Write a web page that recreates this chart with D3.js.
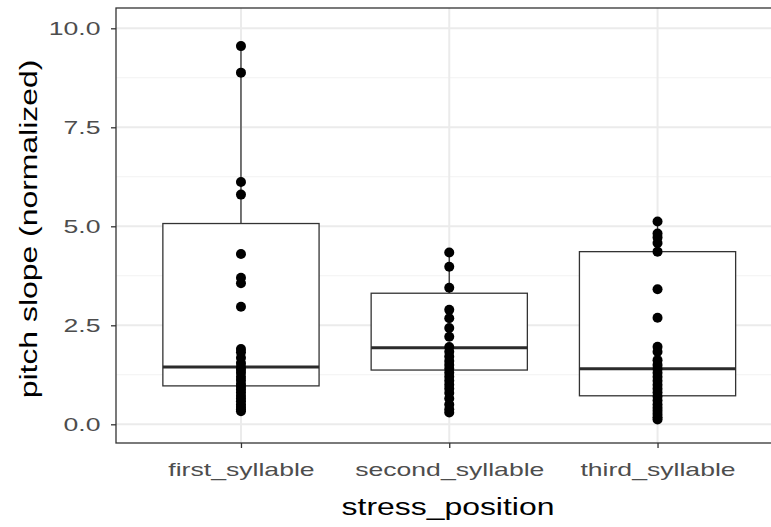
<!DOCTYPE html>
<html>
<head>
<meta charset="utf-8">
<script src="https://cdn.jsdelivr.net/npm/d3@7"></script>
<style>
  html, body { margin: 0; padding: 0; background: #ffffff; }
  svg { display: block; }
  text { font-family: "Liberation Sans", Arial, sans-serif; }
</style>
</head>
<body>
<svg id="chart" width="771" height="527"></svg>
<script>
// Stress position categories
const categories = ["first_syllable", "second_syllable", "third_syllable"];

// Box summaries per category
const whiskerLow  = [0.33, 0.28, 0.12];
const lowerHinge  = [0.97, 1.37, 0.72];
const medians     = [1.45, 1.93, 1.40];
const upperHinge  = [5.07, 3.31, 4.36];
const whiskerHigh = [9.55, 4.34, 5.12];

// Individual observations per category
const firstSyllable = [9.55, 8.88, 6.12, 5.80, 4.30, 3.70, 3.56, 2.97, 1.90, 1.82, 1.68, 1.55,
  1.45, 1.38, 1.30, 1.20, 1.12, 1.02, 0.95, 0.88, 0.80, 0.72, 0.65, 0.58, 0.50, 0.44, 0.38, 0.33];
const secondSyllable = [4.34, 3.98, 3.45, 2.89, 2.68, 2.43, 2.21, 1.95, 1.83, 1.71, 1.60, 1.50,
  1.40, 1.30, 1.20, 1.10, 1.00, 0.90, 0.79, 0.65, 0.50, 0.38, 0.30];
const thirdSyllable = [5.12, 4.82, 4.72, 4.58, 4.36, 3.41, 2.69, 1.96, 1.83, 1.62, 1.50, 1.40,
  1.30, 1.20, 1.10, 1.00, 0.90, 0.80, 0.70, 0.60, 0.50, 0.42, 0.34, 0.26, 0.18, 0.12];
const observations = [firstSyllable, secondSyllable, thirdSyllable];

// Axis ticks
const yMajorTicks = [0, 2.5, 5, 7.5, 10];
const yMinorTicks = [1.25, 3.75, 6.25, 8.75];
const yTickLabels = ["0.0", "2.5", "5.0", "7.5", "10.0"];

const svg = d3.select("#chart");

// Panel frame (extends past the right edge of the canvas)
const panel = { left: 116, right: 782.5, top: 8, bottom: 443 };

// Wide lettering: glyphs are stretched horizontally
const tickStretch = 1.4;
const titleStretch = 1.33;

const x = d3.scalePoint()
  .domain(categories)
  .range([panel.left, panel.right])
  .padding(0.6);

const y = d3.scaleLinear()
  .domain([0, 10])
  .range([424.3, 28.3]);

const boxWidth = x.step() * 0.75;

const boxes = categories.map((c, i) => ({
  cat: c,
  lo: whiskerLow[i], q1: lowerHinge[i], med: medians[i],
  q3: upperHinge[i], hi: whiskerHigh[i], pts: observations[i]
}));

// Panel background
svg.append("rect")
  .attr("x", panel.left).attr("y", panel.top)
  .attr("width", panel.right - panel.left).attr("height", panel.bottom - panel.top)
  .attr("fill", "#ffffff");

// Grid lines
const grid = svg.append("g");
grid.selectAll("line.minor").data(yMinorTicks).join("line")
  .attr("class", "minor")
  .attr("x1", panel.left).attr("x2", panel.right)
  .attr("y1", d => y(d)).attr("y2", d => y(d))
  .attr("stroke", "#F2F2F2").attr("stroke-width", 1.1);
grid.selectAll("line.majorY").data(yMajorTicks).join("line")
  .attr("class", "majorY")
  .attr("x1", panel.left).attr("x2", panel.right)
  .attr("y1", d => y(d)).attr("y2", d => y(d))
  .attr("stroke", "#EBEBEB").attr("stroke-width", 2);
grid.selectAll("line.majorX").data(categories).join("line")
  .attr("class", "majorX")
  .attr("x1", d => x(d)).attr("x2", d => x(d))
  .attr("y1", panel.top).attr("y2", panel.bottom)
  .attr("stroke", "#EBEBEB").attr("stroke-width", 2);

// Boxplots
const boxG = svg.append("g").selectAll("g").data(boxes).join("g");
boxG.append("line")
  .attr("x1", d => x(d.cat)).attr("x2", d => x(d.cat))
  .attr("y1", d => y(d.hi)).attr("y2", d => y(d.q3))
  .attr("stroke", "#333333").attr("stroke-width", 1.3);
boxG.append("line")
  .attr("x1", d => x(d.cat)).attr("x2", d => x(d.cat))
  .attr("y1", d => y(d.q1)).attr("y2", d => y(d.lo))
  .attr("stroke", "#333333").attr("stroke-width", 1.3);
boxG.append("rect")
  .attr("x", d => x(d.cat) - boxWidth / 2)
  .attr("width", boxWidth)
  .attr("y", d => y(d.q3))
  .attr("height", d => y(d.q1) - y(d.q3))
  .attr("fill", "#ffffff")
  .attr("stroke", "#333333").attr("stroke-width", 1.3);
boxG.append("line")
  .attr("x1", d => x(d.cat) - boxWidth / 2).attr("x2", d => x(d.cat) + boxWidth / 2)
  .attr("y1", d => y(d.med)).attr("y2", d => y(d.med))
  .attr("stroke", "#2b2b2b").attr("stroke-width", 3);

// Observations
boxG.selectAll("circle").data(d => d.pts.map(v => ({ cat: d.cat, v }))).join("circle")
  .attr("cx", d => x(d.cat))
  .attr("cy", d => y(d.v))
  .attr("r", 5)
  .attr("fill", "#000000");

// Panel border
svg.append("rect")
  .attr("x", panel.left).attr("y", panel.top)
  .attr("width", panel.right - panel.left).attr("height", panel.bottom - panel.top)
  .attr("fill", "none").attr("stroke", "#333333").attr("stroke-width", 1.3);

// Y axis
const yAxis = d3.axisLeft(y)
  .tickValues(yMajorTicks)
  .tickFormat((d, i) => yTickLabels[i])
  .tickSize(5)
  .tickPadding(4);
const yg = svg.append("g").attr("transform", `translate(${panel.left},0)`).call(yAxis);
yg.select(".domain").remove();
yg.selectAll(".tick line").attr("stroke", "#333333").attr("stroke-width", 1.3);
yg.selectAll(".tick text")
  .attr("x", 0)
  .attr("transform", `translate(-15.5,0) scale(${tickStretch},1)`)
  .attr("fill", "#4D4D4D")
  .style("font-size", "19px")
  .style("font-family", "'Liberation Sans', Arial, sans-serif");

// X axis
const xAxis = d3.axisBottom(x).tickSize(5).tickPadding(14.5);
const xg = svg.append("g").attr("transform", `translate(0,${panel.bottom})`).call(xAxis);
xg.select(".domain").remove();
xg.selectAll(".tick line").attr("stroke", "#333333").attr("stroke-width", 1.3);
xg.selectAll(".tick text")
  .attr("transform", `scale(${tickStretch},1)`)
  .attr("fill", "#4D4D4D")
  .style("font-size", "19px")
  .style("font-family", "'Liberation Sans', Arial, sans-serif");

// Axis titles
svg.append("text")
  .attr("transform", `translate(448,515) scale(${titleStretch},1)`)
  .attr("text-anchor", "middle")
  .style("font-size", "24px")
  .attr("fill", "#000000")
  .text("stress_position");

svg.append("text")
  .attr("transform", `translate(37,229) rotate(-90) scale(${titleStretch},1)`)
  .attr("text-anchor", "middle")
  .style("font-size", "24px")
  .attr("fill", "#000000")
  .text("pitch slope (normalized)");
</script>
</body>
</html>
